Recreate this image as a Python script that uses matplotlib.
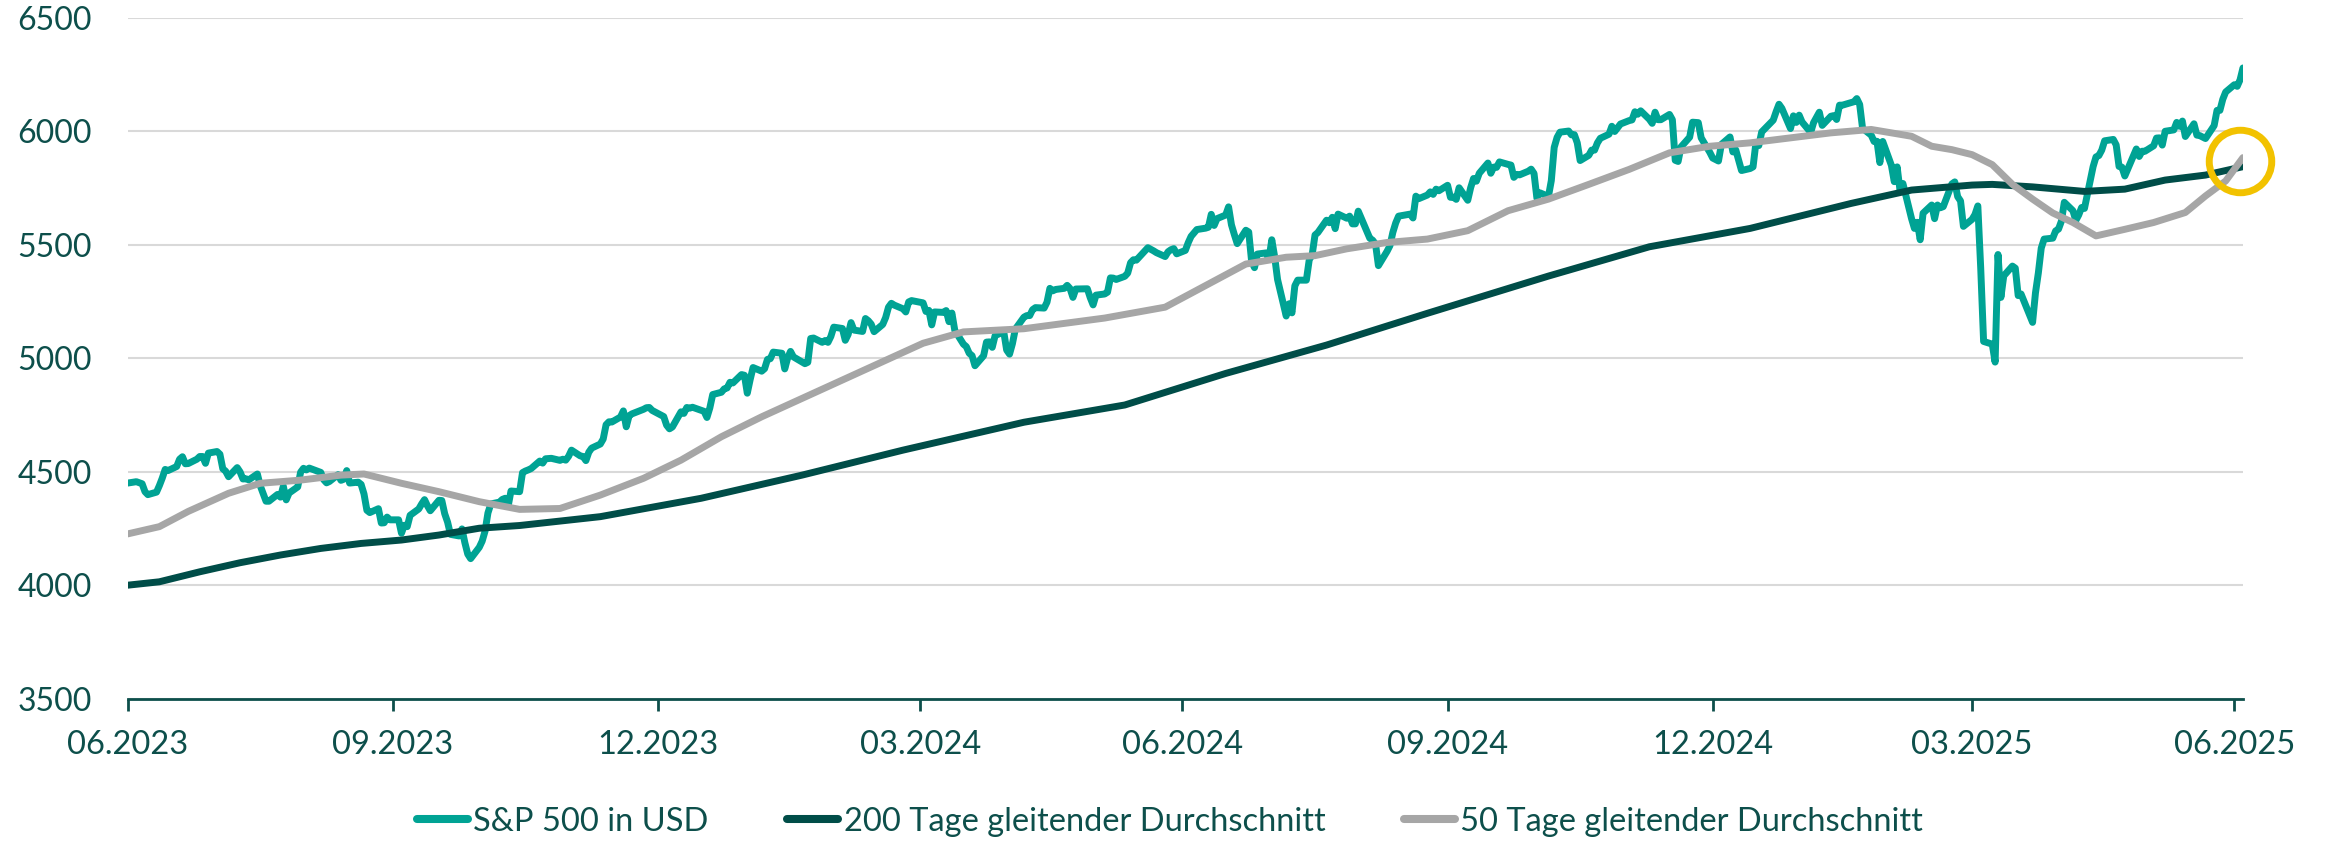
import pandas as pd
import matplotlib
matplotlib.use("Agg")
import matplotlib.pyplot as plt
from matplotlib.lines import Line2D

plt.rcParams['font.family'] = ['Lato', 'DejaVu Sans']

# NYSE closing days between 30.06.2023 and 03.07.2025 (trading calendar of the daily closes)
holidays = ['2023-07-04', '2023-09-04', '2023-11-23', '2023-12-25',
            '2024-01-01', '2024-01-15', '2024-02-19', '2024-03-29', '2024-05-27',
            '2024-06-19', '2024-07-04', '2024-09-02', '2024-11-28', '2024-12-25',
            '2025-01-01', '2025-01-09', '2025-01-20', '2025-02-17', '2025-04-18',
            '2025-05-26', '2025-06-19']

# S&P 500 daily closes (USD), one row per week
spx_2023 = [4450,
            4456, 4447, 4412, 4399,
            4410, 4439, 4472, 4510, 4505,
            4523, 4555, 4566, 4535, 4536,
            4555, 4567, 4567, 4537, 4582,
            4589, 4577, 4513, 4502, 4478,
            4518, 4499, 4468, 4469, 4464,
            4490, 4438, 4404, 4370, 4370,
            4400, 4388, 4436, 4376, 4406,
            4433, 4498, 4515, 4508, 4516,
            4497, 4465, 4451, 4457,
            4487, 4462, 4467, 4505, 4450,
            4454, 4444, 4402, 4330, 4320,
            4337, 4274, 4275, 4300, 4288,
            4288, 4229, 4264, 4258, 4308,
            4336, 4358, 4377, 4350, 4328,
            4374, 4373, 4315, 4278, 4224,
            4217, 4248, 4187, 4137, 4117,
            4167, 4194, 4238, 4318, 4358,
            4366, 4378, 4383, 4347, 4415,
            4412, 4496, 4503, 4508, 4514,
            4547, 4538, 4557, 4559,
            4550, 4555, 4551, 4568, 4595,
            4570, 4567, 4549, 4586, 4604,
            4622, 4644, 4707, 4720, 4719,
            4741, 4768, 4698, 4747, 4755,
            4775, 4782, 4783, 4770]
spx_2024 = [4743, 4705, 4689, 4697,
            4764, 4757, 4783, 4780, 4784,
            4766, 4739, 4781, 4840,
            4850, 4865, 4869, 4894, 4891,
            4928, 4925, 4846, 4906, 4959,
            4943, 4954, 4995, 4998, 5027,
            5022, 4953, 5001, 5030, 5006,
            4976, 4982, 5087, 5089,
            5070, 5078, 5070, 5096, 5137,
            5131, 5079, 5105, 5157, 5124,
            5118, 5175, 5165, 5150, 5117,
            5149, 5179, 5225, 5242, 5234,
            5218, 5204, 5248, 5254,
            5244, 5206, 5211, 5147, 5204,
            5202, 5210, 5161, 5199, 5123,
            5062, 5051, 5022, 5011, 4967,
            5011, 5071, 5072, 5048, 5100,
            5116, 5036, 5018, 5064, 5128,
            5181, 5188, 5188, 5214, 5223,
            5221, 5247, 5308, 5297, 5303,
            5308, 5321, 5307, 5268, 5305,
            5306, 5267, 5235, 5278,
            5283, 5291, 5354, 5353, 5347,
            5361, 5375, 5421, 5434, 5432,
            5473, 5487, 5473, 5465,
            5448, 5469, 5478, 5483, 5460,
            5475, 5509, 5537, 5567,
            5573, 5577, 5634, 5585, 5615,
            5631, 5667, 5588, 5545, 5505,
            5564, 5556, 5427, 5399, 5459,
            5464, 5436, 5522, 5447, 5347,
            5186, 5240, 5200, 5319, 5344,
            5344, 5434, 5455, 5543, 5554,
            5608, 5597, 5621, 5571, 5635,
            5617, 5626, 5592, 5592, 5648,
            5529, 5520, 5503, 5408,
            5471, 5496, 5554, 5596, 5626,
            5633, 5635, 5618, 5714, 5703,
            5719, 5733, 5722, 5745, 5738,
            5762, 5709, 5710, 5700, 5751,
            5696, 5751, 5792, 5780, 5815,
            5860, 5815, 5842, 5841, 5865,
            5854, 5851, 5797, 5810, 5808,
            5824, 5833, 5814, 5705, 5729,
            5713, 5783, 5929, 5973, 5996,
            6001, 5984, 5985, 5949, 5871,
            5894, 5917, 5917, 5949, 5969,
            5987, 6022, 5999, 6032,
            6047, 6050, 6086, 6075, 6090,
            6053, 6035, 6084, 6051, 6051,
            6074, 6051, 5872, 5867, 5931,
            5974, 6040, 6038, 5971,
            5907, 5882]
spx_2025 = [5869, 5942,
            5975, 5909, 5918, 5827,
            5836, 5843, 5950, 5937, 5997,
            6049, 6086, 6119, 6101,
            6012, 6068, 6039, 6071, 6041,
            5995, 6038, 6061, 6084, 6026,
            6066, 6069, 6052, 6115, 6115,
            6130, 6144, 6118, 6013,
            5983, 5955, 5956, 5862, 5955,
            5850, 5778, 5843, 5739, 5770,
            5615, 5572, 5599, 5522, 5639,
            5675, 5615, 5675, 5663, 5668,
            5768, 5777, 5712, 5693, 5581,
            5612, 5633, 5671, 5397, 5074,
            5062, 4983, 5457, 5268, 5363,
            5406, 5397, 5276, 5283,
            5158, 5288, 5376, 5485, 5525,
            5529, 5561, 5569, 5604, 5687,
            5650, 5607, 5631, 5664, 5660,
            5844, 5887, 5893, 5917, 5958,
            5964, 5940, 5845, 5842, 5803,
            5922, 5889, 5912, 5912,
            5936, 5970, 5971, 5939, 6000,
            6006, 6039, 6022, 6045, 5977,
            6033, 5983, 5981, 5968,
            6025, 6092, 6092, 6141, 6173,
            6205, 6198, 6227, 6279]

# 200 Tage gleitender Durchschnitt
ma200_dates = ['2023-06-30', '2023-07-11', '2023-07-25', '2023-08-08', '2023-08-22',
               '2023-09-05', '2023-09-19', '2023-10-03', '2023-10-16', '2023-10-30',
               '2023-11-13', '2023-12-11', '2024-01-15', '2024-02-19', '2024-03-25',
               '2024-05-06', '2024-06-10', '2024-07-15', '2024-08-19', '2024-09-23',
               '2024-11-04', '2024-12-09', '2025-01-13', '2025-02-17', '2025-03-10',
               '2025-03-31', '2025-04-07', '2025-04-21', '2025-05-09', '2025-05-23',
               '2025-06-06', '2025-06-20', '2025-07-03']
ma200 = [4000, 4015, 4059, 4099, 4133,
         4162, 4184, 4199, 4221, 4251,
         4263, 4302, 4383, 4485, 4595,
         4718, 4794, 4933, 5058, 5198,
         5362, 5491, 5572, 5682, 5741,
         5763, 5766, 5755, 5735, 5745,
         5785, 5807, 5844]

# 50 Tage gleitender Durchschnitt
ma50_dates = ['2023-06-30', '2023-07-11', '2023-07-21', '2023-08-04', '2023-08-15',
              '2023-08-29', '2023-09-12', '2023-09-20', '2023-10-03', '2023-10-16',
              '2023-10-30', '2023-11-13', '2023-11-27', '2023-12-11', '2023-12-26',
              '2024-01-08', '2024-01-22', '2024-02-05', '2024-02-19', '2024-03-04',
              '2024-03-18', '2024-04-01', '2024-04-15', '2024-05-06', '2024-06-03',
              '2024-06-24', '2024-07-08', '2024-07-22', '2024-08-05', '2024-08-15',
              '2024-08-26', '2024-09-09', '2024-09-23', '2024-10-07', '2024-10-21',
              '2024-11-04', '2024-11-18', '2024-12-02', '2024-12-16', '2024-12-30',
              '2025-01-13', '2025-01-27', '2025-02-10', '2025-02-24', '2025-03-03',
              '2025-03-10', '2025-03-17', '2025-03-24', '2025-03-31', '2025-04-07',
              '2025-04-14', '2025-04-21', '2025-04-28', '2025-05-05', '2025-05-13',
              '2025-05-23', '2025-06-02', '2025-06-13', '2025-06-20', '2025-06-27',
              '2025-07-03']
ma50 = [4226, 4258, 4325, 4405, 4449,
        4463, 4485, 4490, 4449, 4412,
        4368, 4334, 4338, 4397, 4471,
        4551, 4654, 4742, 4823, 4904,
        4985, 5066, 5116, 5130, 5177,
        5225, 5320, 5415, 5445, 5452,
        5482, 5510, 5525, 5562, 5650,
        5701, 5766, 5832, 5905, 5934,
        5949, 5971, 5993, 6008, 5993,
        5978, 5934, 5919, 5897, 5853,
        5766, 5701, 5640, 5598, 5539,
        5568, 5598, 5642, 5715, 5781,
        5884]

tick_dates = ['2023-06-30', '2023-09-30', '2023-12-31', '2024-03-31', '2024-06-30',
              '2024-09-30', '2024-12-31', '2025-03-31', '2025-06-30']
tick_labels = ['06.2023', '09.2023', '12.2023', '03.2024', '06.2024',
               '09.2024', '12.2024', '03.2025', '06.2025']
y_ticks = [3500, 4000, 4500, 5000, 5500, 6000, 6500]
labels = ['S&P 500 in USD', '200 Tage gleitender Durchschnitt', '50 Tage gleitender Durchschnitt']

# highlighted crossing at the right end
ring_date, ring_value = '2025-07-02', 5870

c_spx, c_200, c_50 = '#00A394', '#004D48', '#A6A6A6'
c_text, c_grid, c_ring = '#0D4F4B', '#D9D9D9', '#F2C200'

days = pd.bdate_range('2023-06-30', '2025-07-03', freq='C', holidays=holidays)
spx = spx_2023 + spx_2024 + spx_2025
assert len(days) == len(spx), (len(days), len(spx))

fig = plt.figure(figsize=(23.26, 8.43), dpi=100)
ax = fig.add_axes([0.0549, 0.1712, 0.9094, 0.8077])

style = dict(lw=5, solid_joinstyle='round', solid_capstyle='round')
ax.plot(days, spx, color=c_spx, zorder=3, **style)
ax.plot(pd.to_datetime(ma200_dates), ma200, color=c_200, zorder=4, **style)
ax.plot(pd.to_datetime(ma50_dates), ma50, color=c_50, zorder=5, **style)
ax.plot([pd.Timestamp(ring_date)], [ring_value], marker='o', ms=45, mfc='none',
        mec=c_ring, mew=5, clip_on=False, zorder=6)

ax.set_xlim(days[0], days[-1])
ax.set_ylim(y_ticks[0], y_ticks[-1])
ax.set_yticks(y_ticks)
ax.set_xticks(pd.to_datetime(tick_dates))
ax.set_xticklabels(tick_labels)

ax.grid(axis='y', color=c_grid, lw=1.5)
ax.set_axisbelow(True)
for s in ['top', 'right', 'left']:
    ax.spines[s].set_visible(False)
ax.spines['bottom'].set_color(c_text)
ax.spines['bottom'].set_linewidth(2)
ax.tick_params(axis='y', length=0, pad=26, labelsize=23, labelcolor=c_text)
ax.tick_params(axis='x', length=8.6, width=2, color=c_text, pad=14,
               labelsize=23.5, labelcolor=c_text)

handles = [Line2D([], [], color=c, lw=5.8, solid_capstyle='round') for c in (c_spx, c_200, c_50)]
fig.legend(handles, labels, loc='center', bbox_to_anchor=(0.503, 0.0253), ncol=3,
           frameon=False, fontsize=23.5, handlelength=1.56, handletextpad=0.17,
           columnspacing=2.4, labelcolor=c_text)

fig.savefig('out.png', dpi=100)
